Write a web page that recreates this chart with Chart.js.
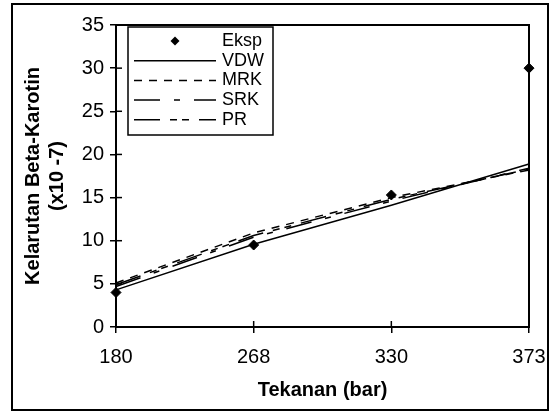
<!DOCTYPE html>
<html>
<head>
<meta charset="utf-8">
<script src="https://cdn.jsdelivr.net/npm/chart.js@4/dist/chart.umd.min.js"></script>
<style>
  html, body { margin: 0; padding: 0; background: #fff; }
  #wrap { width: 550px; height: 413px; }
</style>
</head>
<body>
<div id="wrap"><canvas id="chart" width="550" height="413"></canvas></div>
<script>
    const tekanan = ['180', '268', '330', '373'];
    const eksp = [4.0, 9.5, 15.3, 30.0];
    const vdw = [4.3, 9.6, 14.1, 18.9];
    const mrk = [5.1, 10.9, 15.0, 18.2];
    const srk = [4.7, 10.4, 14.6, 18.4];
    const pr = [4.9, 10.6, 14.8, 18.3];

    const FONT = "'Liberation Sans', Arial, sans-serif";

    const legendItems = [
      { label: 'Eksp', dash: null },
      { label: 'VDW', dash: [] },
      { label: 'MRK', dash: [8, 7] },
      { label: 'SRK', dash: [26, 14, 6, 14] },
      { label: 'PR', dash: [26, 10, 7, 5, 7, 10] }
    ];

    // frame round the whole picture, box round the plot, and the legend
    const decor = {
      id: 'decor',
      afterDraw(chart) {
        const ctx = chart.ctx;
        const a = chart.chartArea;
        ctx.save();
        ctx.strokeStyle = '#000';
        ctx.lineWidth = 2;
        ctx.strokeRect(12, 4, 536, 406);
        ctx.strokeRect(a.left, a.top, a.right - a.left, a.bottom - a.top);

        // inner half of the tick marks
        ctx.lineWidth = 1.5;
        const y = chart.scales.y;
        y.ticks.forEach((t) => {
          const py = y.getPixelForValue(t.value);
          ctx.beginPath();
          ctx.moveTo(a.left, py);
          ctx.lineTo(a.left + 6, py);
          ctx.stroke();
        });
        const x = chart.scales.x;
        for (let i = 1; i < tekanan.length - 1; i++) {
          const px = x.getPixelForValue(i);
          ctx.beginPath();
          ctx.moveTo(px, a.bottom);
          ctx.lineTo(px, a.bottom - 6);
          ctx.stroke();
        }

        // legend
        ctx.lineWidth = 1.5;
        ctx.fillStyle = '#fff';
        ctx.fillRect(128, 27, 145, 108);
        ctx.strokeRect(128, 27, 145, 108);
        ctx.font = '18px ' + FONT;
        ctx.textBaseline = 'middle';
        legendItems.forEach((it, i) => {
          const ly = 41 + i * 19.7;
          ctx.fillStyle = '#000';
          if (it.dash === null) {
            ctx.save();
            ctx.translate(175, ly);
            ctx.rotate(Math.PI / 4);
            ctx.fillRect(-3.2, -3.2, 6.4, 6.4);
            ctx.restore();
          } else {
            ctx.setLineDash(it.dash);
            ctx.beginPath();
            ctx.moveTo(134, ly);
            ctx.lineTo(216, ly);
            ctx.stroke();
            ctx.setLineDash([]);
          }
          ctx.fillText(it.label, 222, ly);
        });
        ctx.restore();
      }
    };

    const lineSet = (label, data, dash) => ({
      label: label,
      data: data,
      borderColor: '#000',
      borderWidth: 1.5,
      borderDash: dash,
      pointRadius: 0,
      fill: false,
      tension: 0
    });

    new Chart(document.getElementById('chart'), {
      type: 'line',
      data: {
        labels: tekanan,
        datasets: [
          {
            label: 'Eksp',
            data: eksp,
            showLine: false,
            pointStyle: 'rectRot',
            pointRadius: 5,
            backgroundColor: '#000',
            borderColor: '#000'
          },
          lineSet('VDW', vdw, []),
          lineSet('MRK', mrk, legendItems[2].dash),
          lineSet('SRK', srk, legendItems[3].dash),
          lineSet('PR', pr, legendItems[4].dash)
        ]
      },
      options: {
        responsive: false,
        animation: false,
        layout: { padding: { left: 0, right: 21, top: 25, bottom: 0 } },
        plugins: {
          legend: { display: false },
          tooltip: { enabled: false }
        },
        scales: {
          x: {
            offset: false,
            grid: { display: true, drawOnChartArea: false, drawTicks: true, tickLength: 6, color: '#000', lineWidth: 1.5 },
            border: { display: false },
            ticks: { color: '#000', font: { family: FONT, size: 20 }, padding: 12, maxRotation: 0 },
            title: {
              display: true,
              text: 'Tekanan (bar)',
              color: '#000',
              font: { family: FONT, size: 20, weight: 'bold' },
              padding: { top: 0, bottom: 11 }
            },
            afterFit(scale) {
              scale.height = 86;
              scale.paddingLeft = 0;
              scale.paddingRight = 0;
            }
          },
          y: {
            min: 0,
            max: 35,
            grid: { display: true, drawOnChartArea: false, drawTicks: true, tickLength: 6, color: '#000', lineWidth: 1.5 },
            border: { display: false },
            ticks: { stepSize: 5, color: '#000', font: { family: FONT, size: 20 }, padding: 6 },
            title: {
              display: true,
              text: ['Kelarutan Beta-Karotin', '(x10 -7)'],
              color: '#000',
              font: { family: FONT, size: 20, weight: 'bold' },
              padding: { top: 21, bottom: 0 }
            },
            afterFit(scale) {
              scale.width = 116;
              scale.paddingTop = 0;
              scale.paddingBottom = 0;
            }
          }
        }
      },
      plugins: [decor]
    });
</script>
</body>
</html>
